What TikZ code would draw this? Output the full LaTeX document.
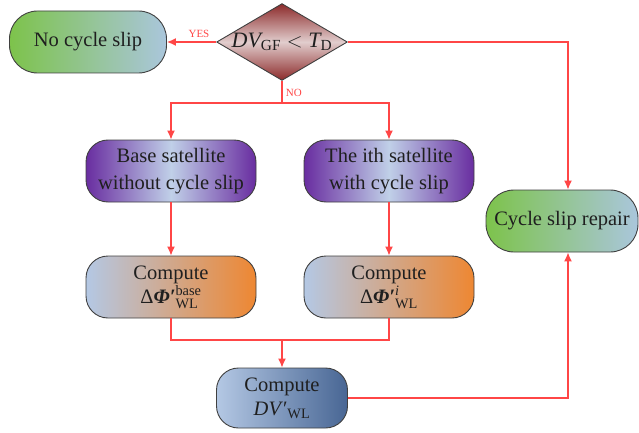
\documentclass[tikz,border=0pt]{standalone}
\usepackage{amsmath}
\usepackage{fontspec}
\setmainfont{Liberation Serif}
\newfontfamily\boxfont{Liberation Serif}
\usetikzlibrary{shapes,arrows.meta}

\definecolor{flowred}{RGB}{255,70,70}
\definecolor{slipgreen}{RGB}{125,195,75}
\definecolor{slipblue}{RGB}{170,198,220}
\definecolor{satpurple}{RGB}{105,45,160}
\definecolor{satlight}{RGB}{192,208,232}
\definecolor{cmplight}{RGB}{180,200,228}
\definecolor{cmporange}{RGB}{238,135,50}
\definecolor{dvdark}{RGB}{72,102,148}
\definecolor{decred}{RGB}{140,42,42}
\definecolor{decpink}{RGB}{225,205,205}

\begin{document}
\begin{tikzpicture}[>={Latex[length=9pt,width=8pt]}, x=1pt, y=-1pt,
	every node/.style={font=\boxfont\fontsize{20.5}{24}\selectfont, text=black!88},
	box/.style={draw=black!75, line width=0.9pt, rounded corners=22pt, align=center,
		inner sep=0pt, minimum width=170pt, minimum height=62pt},
	endbox/.style={box, rounded corners=28pt, minimum width=157pt,
		left color=slipgreen, right color=slipblue},
	satbox/.style={box, font=\boxfont\fontsize{20.5}{27}\selectfont,
		left color=satpurple, right color=satpurple, middle color=satlight},
	compbox/.style={box, left color=cmplight, right color=cmporange},
	dvbox/.style={box, minimum width=131pt, minimum height=60pt,
		left color=cmplight, right color=dvdark},
	decision/.style={draw=black!75, line width=0.9pt, diamond, aspect=1.7, inner sep=0pt,
		minimum width=120pt, minimum height=70pt,
		top color=decred, bottom color=decred, middle color=decpink,
		font=\boxfont\fontsize{22}{26}\selectfont},
	flow/.style={color=flowred, line width=1.3pt},
	lbl/.style={text=flowred, font=\boxfont\fontsize{11}{13}\selectfont}]
	\useasboundingbox (0,0) rectangle (639,433);
	\node [endbox] (noslip) at (88,42) {No cycle slip};
	\node [decision] (dec) at (282,42) {$\mathit{DV}_{\text{GF}} < \mathit{T}_{\text{D}}$};
	\node [satbox] (base) at (171,171) {Base satellite\\without cycle slip};
	\node [satbox] (ith) at (389,171) {The ith satellite\\with cycle slip};
	\node [compbox] (cbase) at (171,287) {Compute\\$\text{Δ\textbf{\textit{Φ′}}}^{\text{base}}_{\text{WL}}$};
	\node [compbox] (cith) at (389,287) {Compute\\$\text{Δ\textbf{\textit{Φ′}}}^{\mathit{i}}_{\text{WL}}$};
	\node [dvbox] (dv) at (282,398) {Compute\\$\text{\textit{DV}′}_{\text{WL}}$};
	\node [endbox, minimum width=152pt] (repair) at (562,221) {Cycle slip repair};
	\coordinate (split) at (282,103);
	\coordinate (join) at (282,340);
	\path [->, flow] (dec) edge node [lbl, above, pos=0.35] {YES} (noslip);
	\draw [flow] (dec) -- node [lbl, right, pos=0.55] {NO} (split);
	\draw [->, flow] (split) -| (base);
	\draw [->, flow] (split) -| (ith);
	\draw [->, flow] (dec) -| ([xshift=6pt]repair.north);
	\path [->, flow] (base) edge (cbase);
	\path [->, flow] (ith) edge (cith);
	\draw [flow] (cbase) |- (join);
	\draw [flow] (cith) |- (join);
	\draw [->, flow] (join) -- (dv);
	\draw [->, flow] (dv) -| ([xshift=6pt]repair.south);
\end{tikzpicture}
\end{document}
